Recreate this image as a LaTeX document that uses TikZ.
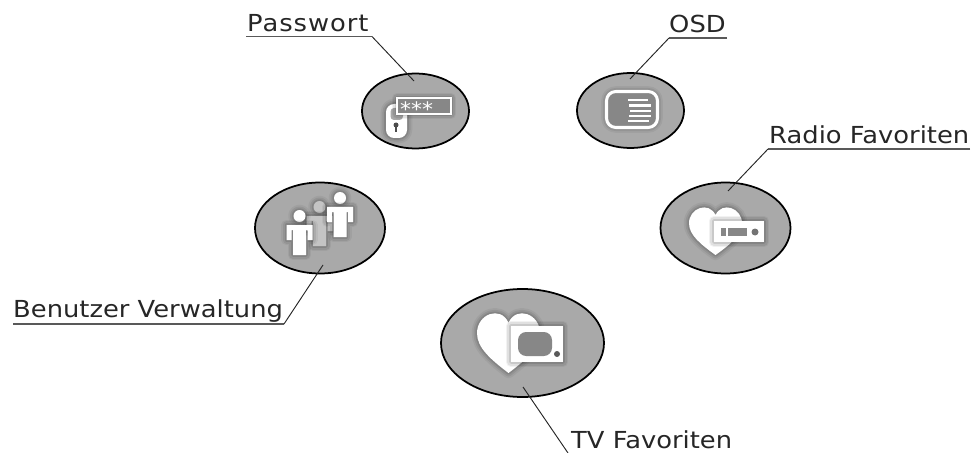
\documentclass[tikz,border=0pt]{standalone}
\usepackage{fontspec}
\setmainfont[FakeStretch=1.1]{DejaVu Sans}
\usetikzlibrary{positioning,shapes.geometric}
\definecolor{discgray}{HTML}{A9A9A9}
\definecolor{screengray}{HTML}{878787}
\tikzset{
  disc/.style={ellipse,draw=black,line width=1.5pt,fill=discgray,inner sep=0pt},
  smalldisc/.style={disc,minimum width=3.21cm,minimum height=2.25cm},
  middisc/.style={disc,minimum width=3.9cm,minimum height=2.73cm},
  caption/.style={font=\fontsize{20}{20}\selectfont,text=black!85,anchor=base west,inner sep=0pt},
  rule/.style={line width=1.2pt,black!65},
  leader/.style={line width=0.8pt,black!85},
  soft/.style={preaction={draw=black,fill=none,opacity=.05,line width=9pt,line join=round},
    preaction={draw=black,fill=none,opacity=.07,line width=6pt,line join=round},
    preaction={draw=black,fill=none,opacity=.1,line width=3pt,line join=round}},
}
\newcommand{\heartshape}[4]{% x, y, halbe breite, halbe hoehe
  \begin{scope}[shift={(#1,#2)},xscale=#3,yscale=#4]
    \path[fill=white,soft] (0,1) .. controls (-0.55,0.55) and (-1,0.15) .. (-1,-0.35)
      .. controls (-1,-1) and (-0.25,-1.3) .. (0,-0.7)
      .. controls (0.25,-1.3) and (1,-1) .. (1,-0.35)
      .. controls (1,0.15) and (0.55,0.55) .. (0,1) -- cycle;
  \end{scope}}
\newcommand{\person}[3]{% x, y der schulter, farbe
  \begin{scope}[shift={(#1,#2)}]
    \path[fill=#3,soft] (0,-9) circle (6);
    \path[fill=#3,soft] (-13,0) -- (13,0) -- (13,15) -- (8,15) -- (8,5) -- (6.5,5)
      -- (6.5,30) -- (-6.5,30) -- (-6.5,5) -- (-8,5) -- (-8,15) -- (-13,15) -- cycle;
  \end{scope}}
\begin{document}
\begin{tikzpicture}[x=0.03cm,y=-0.03cm]
  \useasboundingbox (0,0) rectangle (976,453);
  % scheiben
  \node[smalldisc] (pwDisc) at (415.5,111) {};
  \node[smalldisc] (osdDisc) at (630.5,110.5) {};
  \node[middisc] (radioDisc) at (725.5,228) {};
  \node[middisc] (userDisc) at (320,228) {};
  \node[disc,minimum width=4.89cm,minimum height=3.24cm] (tvDisc) at (522.5,343) {};

  % beschriftungen
  \node[caption] (pwText) at (247,32) {\addfontfeature{LetterSpace=4}Passwort};
  \node[caption] (osdText) at (669,33) {OSD};
  \node[caption] (radioText) at (769,144) {Radio Favoriten};
  \node[caption] (userText) at (13,317) {Benutzer Verwaltung};
  \node[caption] (tvText) at (571,448.5) {TV Favoriten};

  % linien
  \coordinate (pwA) at (246,36.5);
  \coordinate (pwB) at (372,36.5);
  \coordinate (pwC) at (414,81);
  \coordinate (osdA) at (727,38);
  \coordinate (osdB) at (669,38);
  \coordinate (osdC) at (630,79);
  \coordinate (radioA) at (970,149);
  \coordinate (radioB) at (768,149);
  \coordinate (radioC) at (728,191);
  \coordinate (userA) at (13,324);
  \coordinate (userB) at (284,324);
  \coordinate (userC) at (323,265);
  \coordinate (tvA) at (568,453);
  \coordinate (tvC) at (523,387);
  \draw[rule] (pwA) -- (pwB);
  \draw[leader] (pwB) -- (pwC);
  \draw[rule] (osdA) -- (osdB);
  \draw[leader] (osdB) -- (osdC);
  \draw[rule] (radioA) -- (radioB);
  \draw[leader] (radioB) -- (radioC);
  \draw[rule] (userA) -- (userB);
  \draw[leader] (userB) -- (userC);
  \draw[leader] (tvA) -- (tvC);

  % passwort
  \path[fill=white,soft,rounded corners=7pt] (386,138) -- (386,104) -- (407,104) -- (407,138) -- cycle;
  \fill[discgray,rounded corners=3pt] (390.5,108) rectangle (403,120);
  \fill[black!70] (396,125) circle (2.5);
  \fill[black!70] (395,125) rectangle (397,132);
  \path[fill=screengray,draw=white,line width=1.8pt,soft] (397,98) rectangle (451,114);
  \node[font=\fontsize{17}{17}\selectfont,text=white,inner sep=0pt,anchor=base west] (pwStars) at (400,117) {***};

  % osd
  \path[draw=white,line width=2.6pt,fill=screengray,rounded corners=8pt,soft] (606.5,91.5) rectangle (657.5,127.5);
  \foreach \y/\xa/\xb in {100/628/648,105.5/629/651,111/630/651,116/629/651,121/628/649}
    \draw[white,line width=2.4pt] (\xa,\y) -- (\xb,\y);

  % radio
  \heartshape{715.5}{231.5}{26.5}{23.5}
  \path[fill=white,soft] (714,221) rectangle (764,242);
  \fill[screengray] (721,228) rectangle (747,236);
  \fill[white] (726,228) rectangle (728,237);
  \fill[black!55] (755,232) circle (3.5);

  % benutzer
  \person{319.5}{216}{black!23}
  \person{299.5}{225}{white}
  \person{340}{207}{white}

  % tv
  \heartshape{508.5}{343.5}{31.5}{29.5}
  \path[fill=white,soft] (511,326) rectangle (563,362);
  \path[fill=screengray,rounded corners=7pt] (518,332) rectangle (552,356);
  \fill[black!65] (557,354) circle (3);
\end{tikzpicture}
\end{document}
